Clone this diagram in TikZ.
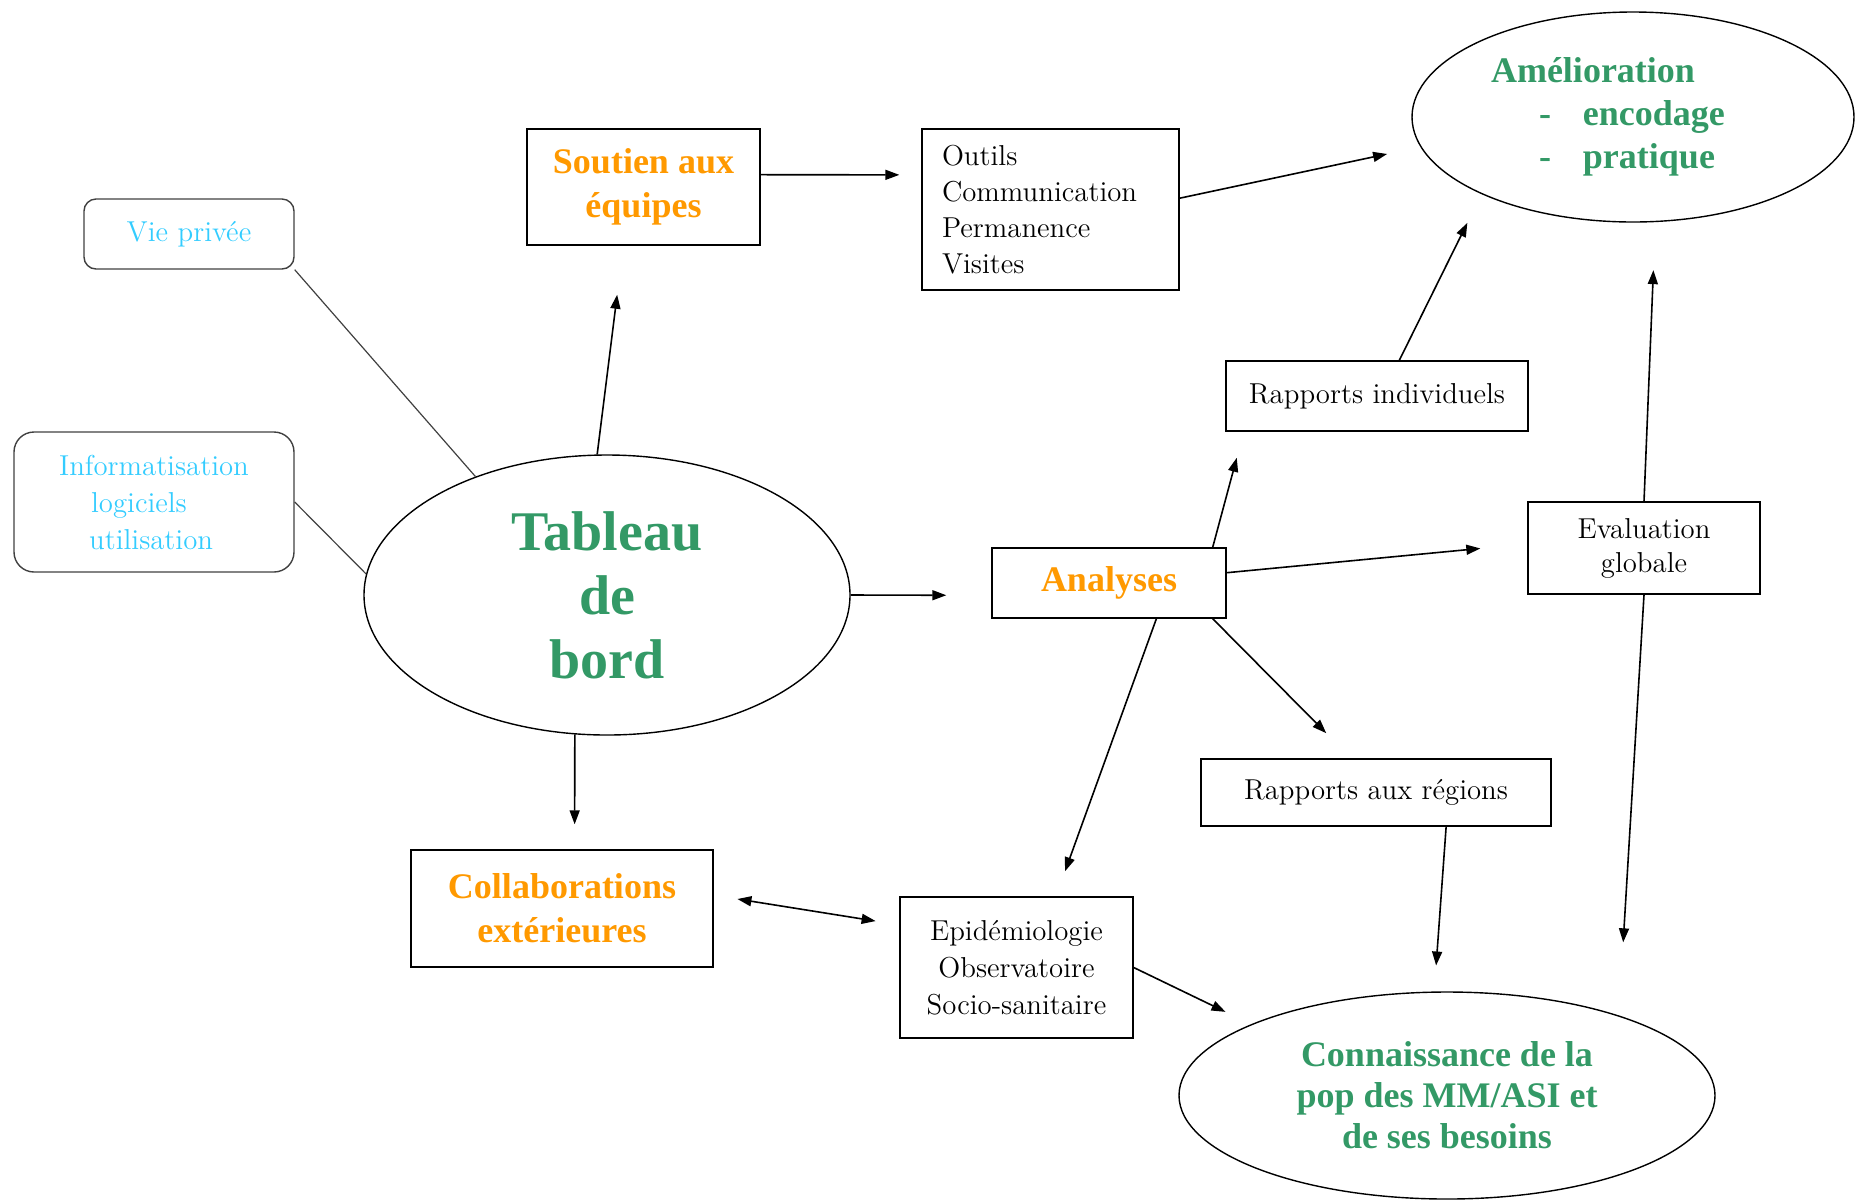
\documentclass[tikz,border=0pt]{standalone}
\usepackage{fontspec}
\usepackage{xcolor}
\usepackage{tikz}
\usetikzlibrary{shapes.geometric, arrows.meta}
\newfontfamily\headfont{Liberation Serif}
\definecolor{seagreen}{HTML}{339966}
\definecolor{boxorange}{HTML}{FF9900}
\definecolor{skycyan}{HTML}{33CCFF}

\begin{document}
\begin{tikzpicture}[x=0.5pt, y=-0.5pt,
      txtbox/.style={
        rectangle, draw=black, line width=0.7pt, inner sep=0pt, align=center,
        font=\fontsize{14.4}{17.5}\selectfont},
      keybox/.style={
        rectangle, draw=black, line width=0.7pt, inner sep=0pt, align=center,
        text=boxorange, font=\headfont\bfseries\fontsize{18}{22}\selectfont},
      bigoval/.style={
        ellipse, draw=black, line width=0.7pt, inner sep=0pt, align=center,
        text=seagreen, font=\headfont\bfseries\fontsize{18}{21.5}\selectfont},
      privbox/.style={
        rectangle, rounded corners=6pt, draw=black!75, line width=0.7pt,
        inner sep=0pt, align=center, text=skycyan,
        font=\fontsize{14.4}{18.5}\selectfont},
      arr/.style={-{Triangle[length=7pt,width=5pt]}, line width=0.8pt},
      twoarr/.style={{Triangle[length=7pt,width=5pt]}-{Triangle[length=7pt,width=5pt]}, line width=0.8pt},
      link/.style={line width=0.6pt, black!75}
    ]
    \useasboundingbox (0,0) rectangle (1856,1201);

    % --- Centre ---
    \node[bigoval, minimum width=243pt, minimum height=140pt,
          font=\headfont\bfseries\fontsize{28}{32}\selectfont] (tableau) at (607,595) {Tableau\\de\\bord};

    % --- Left side ---
    \node[privbox, minimum width=105pt, minimum height=35pt] (vieprivee) at (189,234) {Vie privée};
    \node[privbox, rounded corners=10pt, minimum width=140pt, minimum height=70pt, align=left]
          (infolog) at (154,502) {Informatisation\\\hspace*{16pt}logiciels\\\hspace*{15pt}utilisation};

    % --- Upper row ---
    \node[keybox, minimum width=116.5pt, minimum height=58pt] (soutien) at (643.5,187) {Soutien aux\\équipes};
    \node[txtbox, align=left, text width=108.5pt, inner xsep=10pt, minimum height=80.5pt,
          font=\fontsize{14.4}{18}\selectfont] (outils) at (1050.5,209.5) {Outils\\Communication\\Permanence\\Visites};
    \node[bigoval, minimum width=221pt, minimum height=105pt, align=left, text width=142pt] (amelio) at (1633,117)
          {Amélioration\\\hspace*{24pt}-\hspace*{16pt}encodage\\\hspace*{24pt}-\hspace*{16pt}pratique};

    % --- Middle ---
    \node[txtbox, minimum width=151pt, minimum height=35pt] (rapind) at (1377,396) {Rapports individuels};
    \node[keybox, minimum width=117pt, minimum height=35pt] (analyses) at (1109,583) {Analyses};
    \node[txtbox, minimum width=116pt, minimum height=46pt, font=\fontsize{14.4}{17}\selectfont]
          (evalglob) at (1644,548) {Evaluation\\globale};
    \node[txtbox, minimum width=175pt, minimum height=33.5pt] (raprgn) at (1376,792.5) {Rapports aux régions};

    % --- Lower row ---
    \node[keybox, minimum width=151pt, minimum height=58.5pt] (collab) at (562,908.5) {Collaborations\\extérieures};
    \node[txtbox, minimum width=116.5pt, minimum height=70.5pt, font=\fontsize{14.4}{18.5}\selectfont]
          (epidem) at (1016.5,967.5) {Epidémiologie\\Observatoire\\Socio-sanitaire};
    \node[bigoval, minimum width=268pt, minimum height=103.5pt, font=\headfont\bfseries\fontsize{18}{20.5}\selectfont]
          (connais) at (1447,1095.5) {Connaissance de la\\pop des MM/ASI et\\de ses besoins};

    % --- Arrows ---
    \draw[arr, shorten >=24.7pt] (tableau.94)  -- (soutien.-109);
    \draw[arr, shorten >=11pt]   (soutien.6)   -- (outils.165);
    \draw[arr, shorten >=17pt]   (outils.5)    -- (amelio.188);
    \draw[arr, shorten >=22.5pt] (tableau.east) -- (analyses.186);
    \draw[arr, shorten >=12.5pt] (tableau.-103) -- (collab.78);
    \draw[arr, shorten >=16pt]   (rapind.58)   -- (amelio.207);
    \draw[arr, shorten >=13.5pt] (analyses.19) -- (rapind.195);
    \draw[arr, shorten >=23.6pt] (analyses.5)  -- (evalglob.178);
    \draw[arr, shorten >=17.7pt] (analyses.-19) -- (raprgn.126);
    \draw[arr, shorten >=13.3pt] (analyses.-37) -- (epidem.61);
    \draw[arr, shorten >=24pt]   (evalglob.north) -- (amelio.-78);
    \draw[arr, shorten >=36.6pt] (evalglob.south) -- (connais.25);
    \draw[arr, shorten >=13pt]   (raprgn.-26)  -- (connais.97);
    \draw[arr, shorten >=14.2pt] (epidem.east) -- (connais.160);
    \draw[twoarr, shorten <=12pt, shorten >=12pt] (collab.5) -- (epidem.160);

    % --- Plain links ---
    \draw[link] (vieprivee.south east) -- (tableau.138);
    \draw[link] (infolog.east) -- (tableau.175);
  \end{tikzpicture}
\end{document}
